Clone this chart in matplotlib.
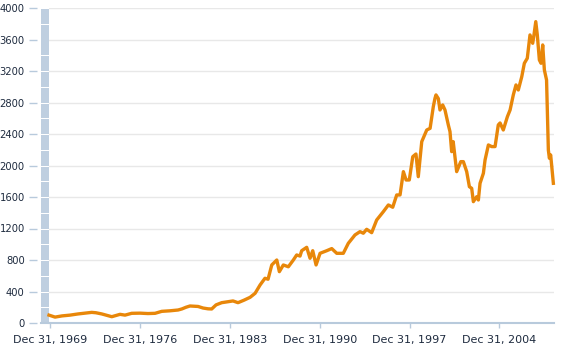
import matplotlib
matplotlib.use("Agg")
import matplotlib.pyplot as plt
from matplotlib.patches import Rectangle
from matplotlib.transforms import blended_transform_factory
from matplotlib.lines import Line2D

years = [1969.92, 1970.39, 1970.93, 1971.56, 1972.18, 1972.73, 1973.25, 1973.58, 1974.03, 1974.36,
         1974.81, 1975.14, 1975.45, 1975.84, 1976.36, 1977.01, 1977.63, 1978.18, 1978.70, 1979.35,
         1979.97, 1980.26, 1980.59, 1980.90, 1981.53, 1981.92, 1982.31, 1982.59, 1982.93, 1983.37,
         1983.86, 1984.25, 1984.64, 1985.11, 1985.58, 1985.97, 1986.36, 1986.74, 1986.98, 1987.27,
         1987.66, 1987.86, 1988.17, 1988.56, 1988.95, 1989.21, 1989.47, 1989.60, 1989.99, 1990.25,
         1990.46, 1990.72, 1991.03, 1991.55, 1991.94, 1992.33, 1992.84, 1993.23, 1993.75, 1994.14,
         1994.40, 1994.66, 1995.05, 1995.44, 1995.96, 1996.35, 1996.69, 1997.00, 1997.26, 1997.52,
         1997.73, 1997.98, 1998.25, 1998.50, 1998.68, 1998.95, 1999.34, 1999.60, 1999.85, 1999.98,
         2000.06, 2000.24, 2000.37, 2000.58, 2000.76, 2001.02, 2001.15, 2001.28, 2001.40, 2001.67,
         2001.99, 2002.19, 2002.45, 2002.66, 2002.84, 2002.97, 2003.23, 2003.36, 2003.49, 2003.75,
         2003.88, 2004.14, 2004.40, 2004.66, 2004.91, 2005.05, 2005.30, 2005.62, 2005.83, 2006.08,
         2006.29, 2006.47, 2006.74, 2006.94, 2007.17, 2007.38, 2007.59, 2007.69, 2007.83, 2007.95,
         2008.11, 2008.24, 2008.37, 2008.50, 2008.67, 2008.81, 2008.89, 2008.99, 2009.20]
values = [100, 75, 90, 100, 115, 125, 135, 130, 115, 100,
          80, 95, 110, 100, 123, 125, 120, 123, 148, 155,
          165, 178, 200, 216, 210, 190, 180, 178, 230, 258,
          270, 280, 258, 290, 326, 377, 483, 568, 556, 737,
          800, 652, 737, 714, 800, 864, 850, 918, 961, 822,
          918, 737, 885, 918, 945, 885, 885, 1012, 1118, 1160,
          1140, 1190, 1147, 1308, 1414, 1499, 1470, 1626, 1626, 1922,
          1816, 1816, 2112, 2146, 1858, 2303, 2451, 2472, 2747, 2853,
          2896, 2850, 2705, 2769, 2705, 2515, 2430, 2176, 2303, 1922,
          2049, 2049, 1922, 1731, 1710, 1541, 1604, 1562, 1774, 1901,
          2070, 2261, 2240, 2240, 2515, 2540, 2451, 2620, 2705, 2896,
          3023, 2959, 3128, 3298, 3362, 3658, 3552, 3658, 3827, 3658,
          3340, 3298, 3531, 3213, 3086, 2197, 2092, 2134, 1774]

x_ticks = [1970, 1977, 1984, 1991, 1998, 2005]
x_labels = ["Dec 31, 1969", "Dec 31, 1976", "Dec 31, 1983", "Dec 31, 1990", "Dec 31, 1997", "Dec 31, 2004"]
y_ticks = [0, 400, 800, 1200, 1600, 2000, 2400, 2800, 3200, 3600, 4000]

W, H = 570, 353
fig = plt.figure(figsize=(W / 100, H / 100), dpi=100)
ax = fig.add_axes([49 / W, 1 - 323 / H, (554 - 49) / W, (323 - 8) / H])

line_color = "#E8870A"
axis_color = "#B8CADC"
text_color = "#1E2B3F"

ax.plot(years, values, color=line_color, lw=2.4, solid_joinstyle="round", zorder=3, clip_on=False)
ax.set_xlim(1969.92, 2009.25)
ax.set_ylim(0, 4000)

for v in y_ticks[1:]:
    ax.axhline(v, color="#E8E8E8", lw=1, zorder=1)

ax.spines["top"].set_visible(False)
ax.spines["right"].set_visible(False)
ax.spines["left"].set_visible(False)
ax.spines["left"].set_position(("outward", 9))
ax.spines["bottom"].set_color(axis_color)
ax.spines["bottom"].set_linewidth(1.5)

ax.set_yticks(y_ticks)
ax.set_yticklabels([str(v) for v in y_ticks])
ax.set_xticks(x_ticks)
ax.set_xticklabels(x_labels)
ax.tick_params(axis="y", length=5.5, width=1, color=axis_color, pad=3, labelsize=7.2, labelcolor=text_color)
ax.tick_params(axis="x", length=3.5, width=1, color=axis_color, pad=5, labelsize=8, labelcolor=text_color)

# segmented side bar
tr = blended_transform_factory(ax.transAxes, ax.transData)
bw = 8 / (554 - 49)
gap = 4000 / 315 * 1.0
for k in range(20):
    y0 = k * 200
    ax.add_patch(Rectangle((-bw, y0), bw, 200 - gap, transform=tr, facecolor="#BFCFE0",
                           edgecolor="none", clip_on=False, zorder=2))
ax.add_line(Line2D([-bw, 0], [0, 0], transform=ax.transAxes, color=axis_color, lw=1.5, clip_on=False))

fig.savefig("out.png", dpi=100, facecolor="white")
